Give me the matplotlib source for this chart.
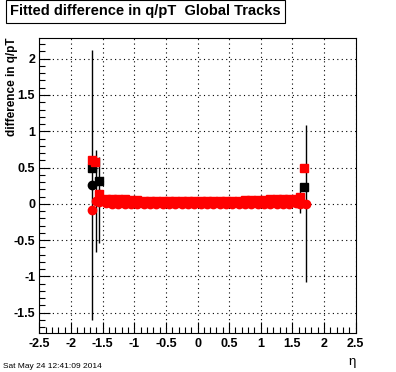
import numpy as np
import matplotlib
matplotlib.use('Agg')
import matplotlib.pyplot as plt
from matplotlib.ticker import MultipleLocator, FuncFormatter

# eta bin centres of the central band (33 bins)
eta_band = [-1.55, -1.45, -1.35, -1.25, -1.15, -1.05, -0.95, -0.85, -0.75, -0.65, -0.55,
            -0.45, -0.35, -0.25, -0.15, -0.05, 0.05, 0.15, 0.25, 0.35, 0.45, 0.55,
            0.65, 0.75, 0.85, 0.95, 1.05, 1.15, 1.25, 1.35, 1.45, 1.55, 1.62]

# red squares
rs_eta = [-1.675, -1.62] + eta_band + [1.685]
rs_val = [0.60, 0.57,
          0.13, 0.07, 0.06, 0.06, 0.06, 0.055, 0.05, 0.045, 0.045, 0.045, 0.045,
          0.045, 0.045, 0.045, 0.045, 0.045, 0.045, 0.045, 0.045, 0.045, 0.045, 0.045,
          0.045, 0.05, 0.05, 0.055, 0.055, 0.06, 0.06, 0.06, 0.065, 0.07, 0.09,
          0.50]
rs_err = [0.05, 0.05,
          0.08, 0.03, 0.02, 0.02, 0.02, 0.02, 0.02, 0.02, 0.02, 0.02, 0.02,
          0.02, 0.02, 0.02, 0.02, 0.02, 0.02, 0.02, 0.02, 0.02, 0.02, 0.02,
          0.02, 0.02, 0.02, 0.02, 0.02, 0.02, 0.02, 0.02, 0.02, 0.03, 0.08,
          0.05]

# red circles
rc_eta = [-1.675, -1.61] + eta_band + [1.71]
rc_val = [-0.08, 0.035,
          0.02, 0.01, 0.0, 0.0, 0.0, 0.0, 0.0, -0.005, -0.005, -0.005, -0.005,
          -0.005, -0.005, -0.005, -0.005, -0.005, -0.005, -0.005, -0.005, -0.005, -0.005, -0.005,
          0.0, 0.0, 0.0, 0.0, 0.0, 0.0, 0.0, 0.0, 0.0, 0.01, 0.0,
          0.0]
rc_err = [0.05, 0.705,
          0.02, 0.02, 0.02, 0.02, 0.02, 0.02, 0.02, 0.02, 0.02, 0.02, 0.02,
          0.02, 0.02, 0.02, 0.02, 0.02, 0.02, 0.02, 0.02, 0.02, 0.02, 0.02,
          0.02, 0.02, 0.02, 0.02, 0.02, 0.02, 0.02, 0.02, 0.02, 0.02, 0.12,
          1.08]

# black squares
bs_eta = [-1.675, -1.56, 1.685]
bs_val = [0.50, 0.31, 0.235]
bs_err = [0.05, 0.05, 0.05]

# black circles
bc_eta = [-1.675, -1.555]
bc_val = [0.255, 0.055]
bc_err = [1.86, 0.595]

plt.rcParams['font.family'] = ['Liberation Sans', 'DejaVu Sans']
fig = plt.figure(figsize=(3.96, 3.72), dpi=100)
ax = fig.add_axes([0.0995, 0.105, 0.7985, 0.7937])

ms = 6
ax.errorbar(bc_eta, bc_val, yerr=bc_err, fmt='o', color='black', ms=ms,
            elinewidth=1, capsize=0, zorder=3)
ax.errorbar(bs_eta, bs_val, yerr=bs_err, fmt='s', color='black', ms=ms,
            elinewidth=1, capsize=0, zorder=3)
ax.errorbar(rc_eta, rc_val, yerr=rc_err, fmt='o', mfc='red', mec='red', ecolor='black',
            ms=ms, elinewidth=1, capsize=0, zorder=4)
ax.errorbar(rs_eta, rs_val, yerr=rs_err, fmt='s', mfc='red', mec='red', ecolor='black',
            ms=ms, elinewidth=1, capsize=0, zorder=4)

ax.set_xlim(-2.5, 2.5)
ax.set_ylim(-1.78, 2.29)
ax.xaxis.set_major_locator(MultipleLocator(0.5))
ax.xaxis.set_minor_locator(MultipleLocator(0.1))
ax.yaxis.set_major_locator(MultipleLocator(0.5))
ax.yaxis.set_minor_locator(MultipleLocator(0.1))
ax.tick_params(which='both', direction='in', top=False, right=False,
               labelsize=9, width=0.8)
ax.tick_params(which='major', length=8)
ax.tick_params(which='minor', length=4)
ax.tick_params(axis='y', which='major', pad=3)
ax.tick_params(axis='x', which='major', pad=4)
ax.xaxis.set_major_formatter(FuncFormatter(lambda v, p: '%g' % v))
ax.yaxis.set_major_formatter(FuncFormatter(lambda v, p: '%g' % v))
for lab in ax.get_xticklabels() + ax.get_yticklabels():
    lab.set_fontweight('bold')
ax.grid(True, which='major', color='black', linestyle=(0, (1, 3)), linewidth=0.8)
ax.set_axisbelow(True)
for s in ax.spines.values():
    s.set_linewidth(0.8)

ax.set_ylabel('difference in q/pT', fontsize=8.5, fontweight='bold')
ax.yaxis.set_label_coords(-0.068, 1.0)
ax.yaxis.label.set_horizontalalignment('right')
fig.text(0.89, 0.02, '\u03b7', fontsize=9.5, ha='center')
fig.text(0.008, 0.012, 'Sat May 24 12:41:09 2014', fontsize=6)

fig.text(0.025, 0.97, 'Fitted difference in q/pT  Global Tracks', fontsize=10.5,
         fontweight='bold', va='center',
         bbox=dict(boxstyle='square,pad=0.3', fc='white', ec='black', lw=0.8))

plt.savefig('out.png', dpi=100)
